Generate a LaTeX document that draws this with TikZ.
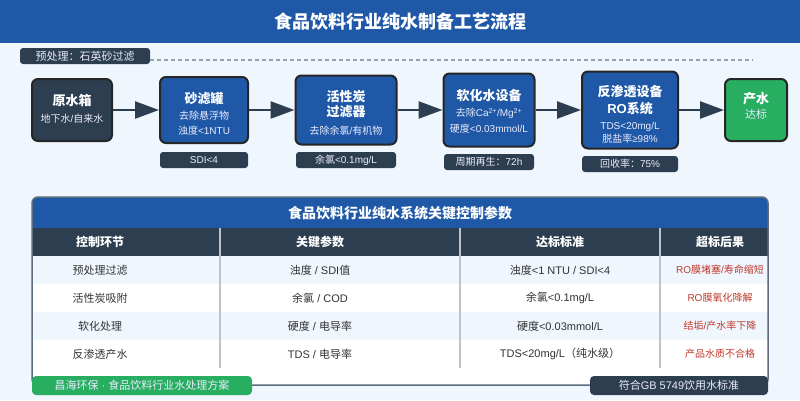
\documentclass[tikz,border=0pt]{standalone}
\usepackage{fontspec}
\setmainfont{Noto Sans CJK SC}
\newfontfamily\latfam{Liberation Sans}
\newcommand{\lat}[1]{{\latfam #1}}
\usetikzlibrary{arrows.meta}
\definecolor{bgc}{HTML}{EFF6FE}
\definecolor{blu}{HTML}{1E58A6}
\definecolor{drk}{HTML}{2C3E50}
\definecolor{grn}{HTML}{27AE60}
\definecolor{redc}{HTML}{C0392B}
\definecolor{dashc}{HTML}{95A5A6}
\definecolor{sepc}{HTML}{BDC3C7}
\definecolor{brd}{HTML}{5D6D7E}
\definecolor{txt}{HTML}{333333}
\newcommand{\fsz}[1]{\fontsize{#1}{#1}\selectfont}
\tikzset{
  procbox/.style={draw=black!85, line width=2pt, rounded corners=6pt, inner sep=0pt},
  bluebox/.style={procbox, fill=blu},
  darkbox/.style={procbox, fill=drk},
  greenbox/.style={procbox, fill=grn},
  ttl/.style={text=white, font=\fsz{13}\bfseries, align=center, inner sep=0pt},
  subt/.style={text=white!92!blue, font=\fontsize{10}{15}\selectfont, align=center, inner sep=0pt},
  tagbox/.style={fill=drk, rounded corners=3pt, text=white!92!blue, font=\fsz{10}, inner sep=0pt},
  arr/.style={draw=drk, line width=2.5pt, -{Triangle[length=24pt,width=17pt]}},
  hdr/.style={text=white, font=\fsz{12}\bfseries, inner sep=0pt},
  cell/.style={text=txt, font=\fsz{11}, inner sep=0pt},
  rcell/.style={text=redc, font=\fsz{10}, inner sep=0pt},
}
\begin{document}
\begin{tikzpicture}[x=1pt,y=-1pt]
\useasboundingbox (0,0) rectangle (800,400);
\fill[bgc] (0,0) rectangle (800,400);
% title bar
\fill[blu] (0,0) rectangle (800,43);
\node[text=white, font=\fsz{18}\bfseries, inner sep=0pt] (title) at (400,21.5) {食品饮料行业纯水制备工艺流程};
% pre-treatment tag and dashed line
\node[tagbox, font=\fsz{11}, minimum width=130pt, minimum height=16pt] (pre) at (85,56) {预处理：石英砂过滤};
\coordinate (dashend) at (753,60);
\draw[dashc, line width=1.5pt, dash pattern=on 4pt off 3pt] (pre.east |- dashend) -- (dashend);
% process boxes
\node[darkbox, minimum width=80pt, minimum height=62pt] (raw) at (72,110) {};
\node[ttl] (rawT) at (72,101) {原水箱};
\node[subt] (rawS) at (72,119) {地下水\lat{/}自来水};

\node[bluebox, minimum width=88pt, minimum height=66pt] (sand) at (204,110) {};
\node[ttl] (sandT) at (204,99) {砂滤罐};
\node[subt] (sandS) at (204,123.5) {去除悬浮物\\浊度\lat{<1NTU}};

\node[bluebox, minimum width=101pt, minimum height=69pt] (carb) at (346,110) {};
\node[ttl, font=\fontsize{13}{15.5}\selectfont\bfseries] (carbT) at (346,104) {活性炭\\过滤器};
\node[subt] (carbS) at (346,131) {去除余氯\lat{/}有机物};

\node[bluebox, minimum width=91pt, minimum height=73pt] (soft) at (489,110) {};
\node[ttl] (softT) at (489,96) {软化水设备};
\node[subt, font=\fontsize{10}{16}\selectfont] (softS) at (489,121) {去除\lat{Ca\textsuperscript{2+}/Mg\textsuperscript{2+}}\\硬度\lat{<0.03mmol/L}};

\node[bluebox, minimum width=96pt, minimum height=77pt] (ro) at (630,110) {};
\node[ttl, font=\fontsize{13}{17}\selectfont\bfseries] (roT) at (630,100.5) {反渗透设备\\\lat{RO}系统};
\node[subt, font=\fontsize{10}{12.5}\selectfont] (roS) at (630,133) {\lat{TDS<20mg/L}\\脱盐率\lat{≥98\%}};

\node[greenbox, minimum width=62pt, minimum height=62pt] (out) at (756,110) {};
\node[ttl] (outT) at (756,99) {产水};
\node[subt, font=\fsz{11}] (outS) at (756,114) {达标};
% arrows
\draw[arr] (raw.east) -- (sand.west);
\draw[arr] (sand.east) -- (carb.west);
\draw[arr] (carb.east) -- (soft.west);
\draw[arr] (soft.east) -- (ro.west);
\draw[arr] (ro.east) -- (out.west);
% tags under boxes
\node[tagbox, minimum width=88pt, minimum height=16pt] (t1) at (204,160) {\lat{SDI<4}};
\node[tagbox, minimum width=100pt, minimum height=16pt] (t2) at (346,160) {余氯\lat{<0.1mg/L}};
\node[tagbox, minimum width=90pt, minimum height=16pt] (t3) at (489,162) {周期再生：\lat{72h}};
\node[tagbox, minimum width=96pt, minimum height=16pt] (t4) at (630,164) {回收率：\lat{75\%}};
% table
\begin{scope}
\clip[rounded corners=6pt] (32,197) rectangle (768,385);
\fill[white] (32,197) rectangle (768,385);
\fill[blu] (32,197) rectangle (768,228);
\fill[drk] (32,228) rectangle (768,256);
\fill[bgc] (32,256) rectangle (768,284);
\fill[bgc] (32,312) rectangle (768,340);
\end{scope}
\draw[brd, line width=1.5pt, rounded corners=6pt] (32,197) rectangle (768,385);
\foreach \xx in {220,460,660} \draw[sepc, line width=1.5pt] (\xx,228) -- (\xx,368);
\node[text=white, font=\fsz{14}\bfseries, inner sep=0pt] (ttitle) at (400,213) {食品饮料行业纯水系统关键控制参数};
\node[hdr] (h1) at (100,242) {控制环节};
\node[hdr] (h2) at (320,242) {关键参数};
\node[hdr] (h3) at (560,242) {达标标准};
\node[hdr] (h4) at (720,242) {超标后果};
\node[cell] (c11) at (100,270) {预处理过滤};
\node[cell] (c12) at (320,270) {浊度\lat{ / SDI}值};
\node[cell] (c13) at (560,270) {浊度\lat{<1 NTU / SDI<4}};
\node[rcell] (c14) at (720,270) {\lat{RO}膜堵塞\lat{/}寿命缩短};
\node[cell] (c21) at (100,298) {活性炭吸附};
\node[cell] (c22) at (320,298) {余氯\lat{ / COD}};
\node[cell] (c23) at (560,298) {余氯\lat{<0.1mg/L}};
\node[rcell] (c24) at (720,298) {\lat{RO}膜氧化降解};
\node[cell] (c31) at (100,326) {软化处理};
\node[cell] (c32) at (320,326) {硬度\lat{ / }电导率};
\node[cell] (c33) at (560,326) {硬度\lat{<0.03mmol/L}};
\node[rcell] (c34) at (720,326) {结垢\lat{/}产水率下降};
\node[cell] (c41) at (100,354) {反渗透产水};
\node[cell] (c42) at (320,354) {\lat{TDS / }电导率};
\node[cell] (c43) at (560,354) {\lat{TDS<20mg/L}（纯水级）};
\node[rcell] (c44) at (720,354) {产品水质不合格};
% footer tags
\node[fill=grn, rounded corners=4pt, text=white!92!blue, font=\fsz{11}, inner sep=0pt, minimum width=220pt, minimum height=19pt] (foot1) at (142,385.5) {昌海环保\lat{ · }食品饮料行业水处理方案};
\node[fill=drk, rounded corners=4pt, text=white!92!blue, font=\fsz{11}, inner sep=0pt, minimum width=178pt, minimum height=19pt] (foot2) at (679,385.5) {符合\lat{GB 5749}饮用水标准};
\end{tikzpicture}
\end{document}
